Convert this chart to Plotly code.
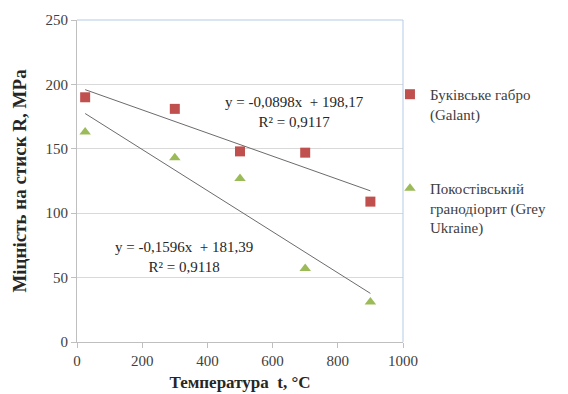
import plotly.graph_objects as go

temps = [25, 300, 500, 700, 900]
gabbro = [190, 181, 148, 147, 109]
granodiorite = [163, 143, 127, 57, 31]
names = ["Буківське габро<br>(Galant)", "Покостівський<br>гранодіорит (Grey<br>Ukraine)"]
fit_gabbro = (-0.0898, 198.17, 0.9117)
fit_grano = (-0.1596, 181.39, 0.9118)
x_ticks = [0, 200, 400, 600, 800, 1000]
y_ticks = [0, 50, 100, 150, 200, 250]

font = "Liberation Serif"
grey_txt = "#404040"
L, R, T, B = 77, 165, 20, 52
W, H = 568, 394
PW, PH = W - L - R, H - T - B

fig = go.Figure()
fig.add_trace(go.Scatter(x=temps, y=gabbro, mode="markers", name=names[0],
                         legendgroup="a",
                         marker=dict(symbol="square", size=10, color="#C0504D")))
fig.add_trace(go.Scatter(x=temps, y=granodiorite, mode="markers", name=names[1],
                         legendgroup="b",
                         marker=dict(symbol="triangle-up", size=10, color="#9BBB59")))
for (k, b, r2) in (fit_gabbro, fit_grano):
    xs = [temps[0], temps[-1]]
    fig.add_trace(go.Scatter(x=xs, y=[k * x + b for x in xs], mode="lines",
                             showlegend=False, hoverinfo="skip",
                             line=dict(color="#6b6b6b", width=1)))

def fmt(v, d):
    return f"{v:.{d}f}".replace(".", ",")

def eq_text(fit):
    k, b, r2 = fit
    return f"y = {fmt(k, 4)}x  + {fmt(b, 2)}<br>R² = {fmt(r2, 4)}"

ann = [
    (294, 112, eq_text(fit_gabbro)),
    (184, 257, eq_text(fit_grano)),
]
annotations = []
for px, py, t in ann:
    annotations.append(dict(x=(px - L) / PW, y=(H - B - py) / PH, xref="paper", yref="paper",
                            text=t, showarrow=False, xanchor="center", yanchor="middle",
                            align="center",
                            font=dict(family=font, size=15, color="#262626")))

fig.update_layout(
    width=W, height=H,
    margin=dict(l=L, r=R, t=T, b=B, autoexpand=False),
    paper_bgcolor="white", plot_bgcolor="white",
    font=dict(family=font, size=15, color=grey_txt),
    xaxis=dict(range=[0, 1000], tickvals=x_ticks, showgrid=False, zeroline=False,
               showline=True, linecolor="#bfbfbf", linewidth=1, automargin=False,
               ticks="outside", ticklen=5, tickcolor="#bfbfbf",
               tickfont=dict(family=font, size=15, color=grey_txt),
               title=dict(text="<b>Температура  t, °C</b>", standoff=8,
                          font=dict(family=font, size=17, color="#262626"))),
    yaxis=dict(range=[0, 250], tickvals=y_ticks, showgrid=True, gridcolor="#d9d9d9",
               zeroline=False, showline=True, linecolor="#bfbfbf", linewidth=1,
               automargin=False,
               ticks="outside", ticklen=5, tickcolor="#bfbfbf",
               tickfont=dict(family=font, size=15, color=grey_txt),
               title=dict(text="<b>Міцність на стиск R, MPa</b>", standoff=13,
                          font=dict(family=font, size=19, color="#262626"))),
    legend=dict(x=0.96, y=0.82, xanchor="left", yanchor="top", valign="top",
                font=dict(family=font, size=15, color=grey_txt),
                tracegroupgap=52, itemwidth=30, bgcolor="rgba(0,0,0,0)"),
    annotations=annotations,
    shapes=[
        dict(type="line", xref="paper", yref="paper", x0=0, x1=1, y0=1, y1=1,
             line=dict(color="#b4cbe8", width=1)),
        dict(type="line", xref="paper", yref="paper", x0=1, x1=1, y0=0, y1=1,
             line=dict(color="#b4cbe8", width=1)),
    ],
)

fig.write_html("out.html")
